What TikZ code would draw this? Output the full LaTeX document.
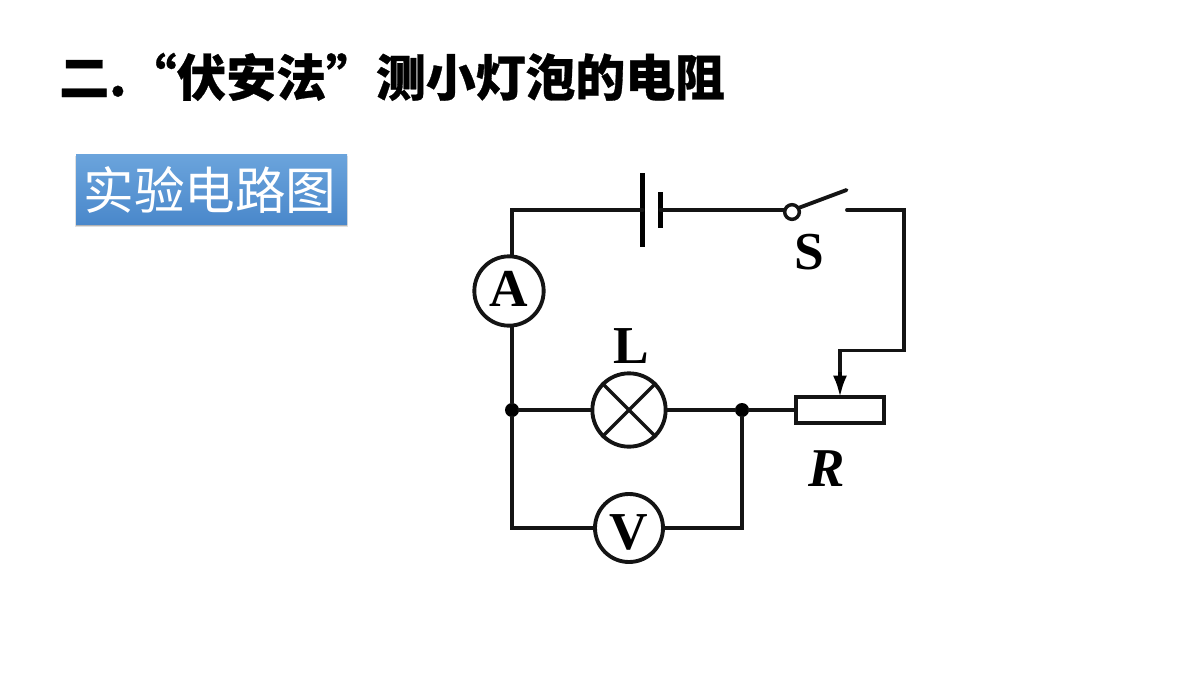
\documentclass[tikz,border=0pt]{standalone}
\usepackage{fontspec}
\setmainfont{Liberation Serif}
\newfontfamily\cjkheavy[FakeBold=0.6]{Noto Sans CJK SC Black}
\newfontfamily\cjkreg{Noto Sans CJK SC}
\usetikzlibrary{arrows.meta}
\definecolor{tagtop}{HTML}{6BA4DC}
\definecolor{tagbot}{HTML}{4A88CB}
\tikzset{
  wire/.style={line width=2.9pt,line join=miter,line cap=round,black!92},
  thinwire/.style={line width=2.5pt,line cap=butt,black!92},
  meter/.style={circle,draw=black!92,line width=2.9pt,fill=white,inner sep=0pt,minimum size=50pt},
  dotj/.style={circle,fill=black,inner sep=0pt,minimum size=10.5pt},
  lab/.style={inner sep=0pt,font=\bfseries\fontsize{40}{40}\selectfont},
  title/.style={inner sep=0pt,anchor=west,font=\cjkheavy\fontsize{37.4}{37.4}\selectfont},
  tag/.style={inner sep=0pt,text=white,font=\cjkreg\fontsize{38}{38}\selectfont}
}
\begin{document}
\begin{tikzpicture}[x=0.75pt,y=-0.75pt]
\useasboundingbox (0,0) rectangle (1200,675);
\fill[white] (0,0) rectangle (1200,675);
% title
\node[title] (ttl) at (59,77) {二.“伏安法”测小灯泡的电阻};
% tag
\fill[black!12] (75,156) rectangle (348,227);
\fill[black!30] (76,156) rectangle (347,226);
\shade[top color=tagtop,bottom color=tagbot] (76,154) rectangle (347,224);
\node[tag] (tagt) at (210,190) {实验电路图};
% nodes
\node[meter,minimum size=52pt] (A) at (509,291) {};
\node[meter,minimum size=55pt] (L) at (629,410) {};
\node[meter,minimum size=51pt] (V) at (629,528) {};
\node[lab] at (509,289) (Alab) {A};
\node[lab] at (629,532) (Vlab) {V};
\node[lab] at (631,346) (Llab) {L};
\node[lab] at (809,252) (Slab) {S};
\node[lab,font=\bfseries\itshape\fontsize{41}{41}\selectfont] at (827,469) (Rlab) {R};
\node[dotj] (j1) at (512,410) {};
\node[dotj] (j2) at (742,410) {};
\node[draw=black!92,line width=3pt,fill=white,inner sep=0pt,outer sep=0pt,minimum width=66pt,minimum height=19.5pt] (Rh) at (840,410) {};
% battery
\coordinate (bl1) at (642.5,173); \coordinate (bl2) at (642.5,247);
\coordinate (bs1) at (660.5,192); \coordinate (bs2) at (660.5,228);
\coordinate (blm) at (642.5,210); \coordinate (bsm) at (660.5,210);
\draw[line width=3.6pt] (bl1) -- (bl2);
\draw[line width=3.6pt] (bs1) -- (bs2);
% corners
\coordinate (tl) at (512,210);
\coordinate (blc) at (512,528);
\coordinate (brc) at (742,528);
\coordinate (swe) at (847,210);
\coordinate (swt) at (846.5,190);
\coordinate (tr) at (904,210);
\coordinate (mr) at (904,350.5);
\coordinate (ml) at (840,350.5);
\coordinate (arrs) at (840,372);
\coordinate (swin) at (792,210);
% wires
\draw[wire] (blm) -- (tl) -- (tl |- A.north);
\draw[wire] (A.south -| tl) -- (j1);
\draw[wire] (j1) -- (blc) -- (V.west);
\draw[wire] (V.east) -- (brc) -- (j2);
\draw[wire] (j1) -- (L.west);
\draw[wire] (L.east) -- (j2) -- (Rh.west);
\draw[wire] (bsm) -- (swin);
\node[circle,draw=black!92,line width=2.6pt,fill=white,inner sep=0pt,minimum size=11pt] (sw) at (792,212) {};
\draw[wire] (sw.30) -- (swt);
\draw[wire] (swe) -- (tr) -- (mr) -- (ml) -- (arrs);
\draw[-{Latex[length=16pt,width=10.5pt]},line width=2.6pt] (arrs) -- (Rh.north);
% cross in lamp
\draw[thinwire] (L.north west) -- (L.south east);
\draw[thinwire] (L.north east) -- (L.south west);
\end{tikzpicture}
\end{document}
